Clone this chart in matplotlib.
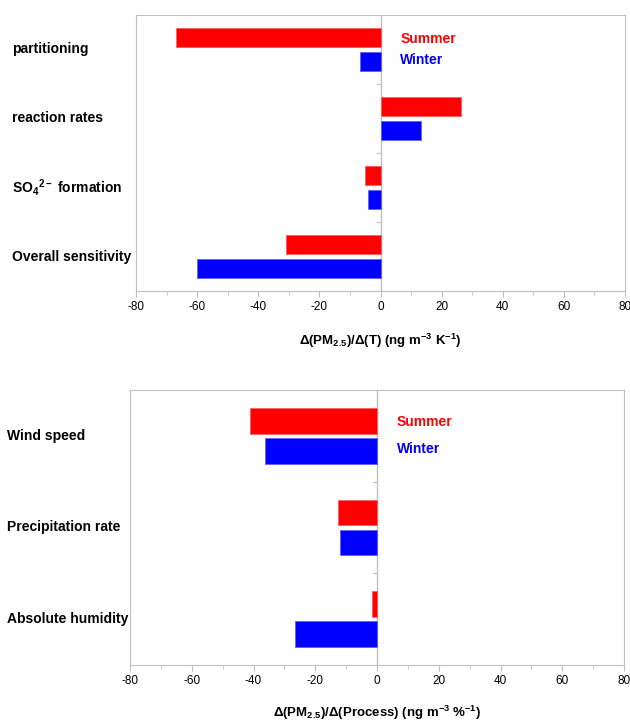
import numpy as np
import matplotlib
matplotlib.use("Agg")
import matplotlib.pyplot as plt

plt.rcParams['font.family'] = ['Liberation Sans', 'DejaVu Sans']
plt.rcParams['mathtext.fontset'] = 'custom'
plt.rcParams['mathtext.bf'] = 'Liberation Sans:bold'
plt.rcParams['mathtext.rm'] = 'Liberation Sans:bold'
plt.rcParams['mathtext.default'] = 'bf'
plt.rcParams['axes.unicode_minus'] = False

# top panel: temperature sensitivity
temp_cats = ['partitioning', 'reaction rates', r'SO$_4$$^{2-}$ formation', 'Overall sensitivity']
temp_summer = [-67, 26.5, -5.2, -31]
temp_winter = [-6.6, 13.4, -4.2, -60.2]

# bottom panel: process sensitivity
proc_cats = ['Wind speed', 'Precipitation rate', 'Absolute humidity']
proc_summer = [-41.2, -12.6, -1.7]
proc_winter = [-36.2, -11.9, -26.4]

xticks = [-80, -60, -40, -20, 0, 20, 40, 60, 80]

RED = '#FF0000'
BLUE = '#0000FF'
GRAY = '#BFBFBF'

fig = plt.figure(figsize=(6.3, 7.23), dpi=100)


def panel(rect, cats, summer, winter, xlabel, label_x, leg_y, bar_h, off, pad):
    ax = fig.add_axes(rect)
    y = np.arange(len(cats))
    ax.barh(y - off, summer, height=bar_h, color=RED, edgecolor='#FF6060', linewidth=0.6)
    ax.barh(y + off, winter, height=bar_h, color=BLUE, edgecolor='#6060FF', linewidth=0.6)
    ax.set_xlim(-80, 80)
    ax.set_ylim(len(cats) - 0.5, -0.5)
    ax.axvline(0, color=GRAY, lw=1, zorder=0)
    # category boundary marks on the zero axis
    for b in np.arange(0.5, len(cats) - 0.5, 1):
        ax.plot([-1.2, 0], [b, b], color=GRAY, lw=0.8, zorder=0)
    for s in ax.spines.values():
        s.set_color(GRAY)
    ax.set_yticks([])
    ax.set_xticks(xticks)
    ax.set_xticks(np.arange(-70, 80, 20), minor=True)
    ax.tick_params(axis='x', which='both', direction='out', color=GRAY, length=4, labelsize=8.5)
    ax.tick_params(axis='x', which='minor', length=3)
    ax.set_xlabel(xlabel, fontsize=9.5, fontweight='bold', labelpad=pad)
    for yi, c in zip(y, cats):
        ax.text(label_x, yi, c, transform=ax.get_yaxis_transform(), fontsize=10,
                fontweight='bold', ha='left', va='center')
    ax.text(6.5, leg_y[0], 'Summer', color=RED, fontsize=10, fontweight='bold', va='center')
    ax.text(6.5, leg_y[1], 'Winter', color=BLUE, fontsize=10, fontweight='bold', va='center')
    return ax


panel([136 / 630, 1 - 291 / 723, 489 / 630, 276 / 723], temp_cats, temp_summer, temp_winter,
      r'Δ(PM$_{2.5}$)/Δ(T) (ng m$^{-3}$ K$^{-1}$)', -124 / 489, (-0.15, 0.15), 0.275, 0.167, 13)
panel([130 / 630, 1 - 665 / 723, 494 / 630, 275 / 723], proc_cats, proc_summer, proc_winter,
      r'Δ(PM$_{2.5}$)/Δ(Process) (ng m$^{-3}$ %$^{-1}$)', -123 / 494, (-0.15, 0.14), 0.28, 0.165, 12)

fig.savefig('out.png', dpi=100)
